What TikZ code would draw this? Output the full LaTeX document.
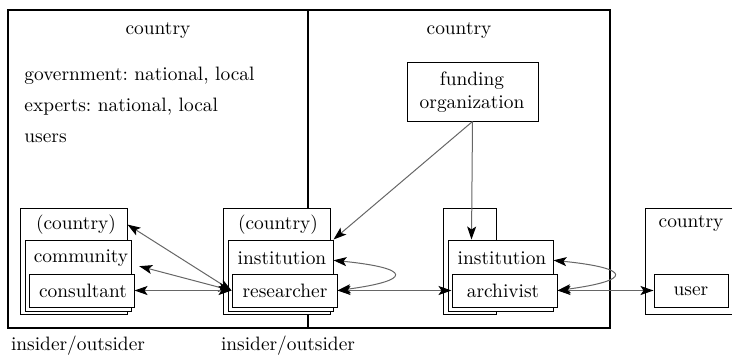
\documentclass[tikz,border=0pt]{standalone}
\usetikzlibrary{fit,calc,arrows.meta}
\frenchspacing

\begin{document}
\begin{tikzpicture}[x=0.5pt,y=-0.5pt,
  >={Stealth[length=6.5pt,width=4.5pt,inset=1.5pt,black]},
  every node/.style={font=\fontsize{9.7}{11.5}\selectfont,inner sep=0pt},
  frame/.style={draw,line width=1.2pt,inner sep=0pt},
  box/.style={draw,fill=white,line width=0.5pt,inner sep=0pt},
  link/.style={draw=black!60,line width=0.5pt,<->},
  feed/.style={draw=black!60,line width=0.5pt,->}]
  \useasboundingbox (0,0) rectangle (732,355);
  % the two countries
  \node[frame,fit={(8,10) (308,328)}] (westland) {};
  \node[frame,fit={(308,10) (610,328)}] (eastland) {};
  \node (westname) at (158,31) {country};
  \node (eastname) at (459,31) {country};
  \node[anchor=west] (gov) at (24,76) {government: national, local};
  \node[anchor=west] (experts) at (24,107) {experts: national, local};
  \node[anchor=west] (users) at (24,138) {users};
  \node (insider1) at (78,346) {insider/outsider};
  \node (insider2) at (288,346) {insider/outsider};
  % community side
  \node[box,fit={(20,208) (127,314)}] (lcountry) {};
  \node (lcountryname) at (76,225) {(country)};
  \node[box,fit={(25,240) (131,311)}] (community) {};
  \node (communityname) at (81,258) {community};
  \node[box,fit={(29,274) (134,307)}] (consultant) {};
  \node (consultantname) at (83,291) {consultant};
  % researcher side
  \node[box,fit={(223,208) (330,314)}] (mcountry) {};
  \node (mcountryname) at (278,225) {(country)};
  \node[box,fit={(228,240) (333,311)}] (minst) {};
  \node (minstname) at (282,258) {institution};
  \node[box,fit={(232,274) (337,307)}] (researcher) {};
  \node (researchername) at (285,291) {researcher};
  % archive side
  \node[box,fit={(443,208) (496,314)}] (rgroup) {};
  \node[box,fit={(448,240) (553,311)}] (rinst) {};
  \node (rinstname) at (502,258) {institution};
  \node[box,fit={(452,274) (557,307)}] (archivist) {};
  \node (archivistname) at (503,291) {archivist};
  \node[box,fit={(407,62) (538,121)}] (funding) {};
  \node[align=center] (fundingname) at (472,92) {funding\\organization};
  % user abroad
  \draw[line width=0.5pt] (740,208) -| (645,314) -- (740,314);
  \node (ucountryname) at (691,224) {country};
  \node[box,fit={(654,274) (728,307)}] (user) {};
  \node (username) at (691,291) {user};
  % links
  \draw[link] (researcher.west) -- (lcountry.34);
  \draw[link,shorten >=4pt] (researcher.west) -- (community.12);
  \draw[link] (researcher.west) -- (consultant.east);
  \draw[feed] (funding.south) -- (minst.north east);
  \draw[feed] (funding.south) -- ($(rinst.north west)+(24,0)$);
  \draw[link] (researcher.east) .. controls +(75,-10) and +(79,8) .. (minst.16);
  \draw[link] (researcher.east) -- (archivist.west);
  \draw[link] (archivist.east) .. controls +(75,-10) and +(79,8) .. (rinst.16);
  \draw[link] (archivist.east) -- (user.west);
\end{tikzpicture}
\end{document}
